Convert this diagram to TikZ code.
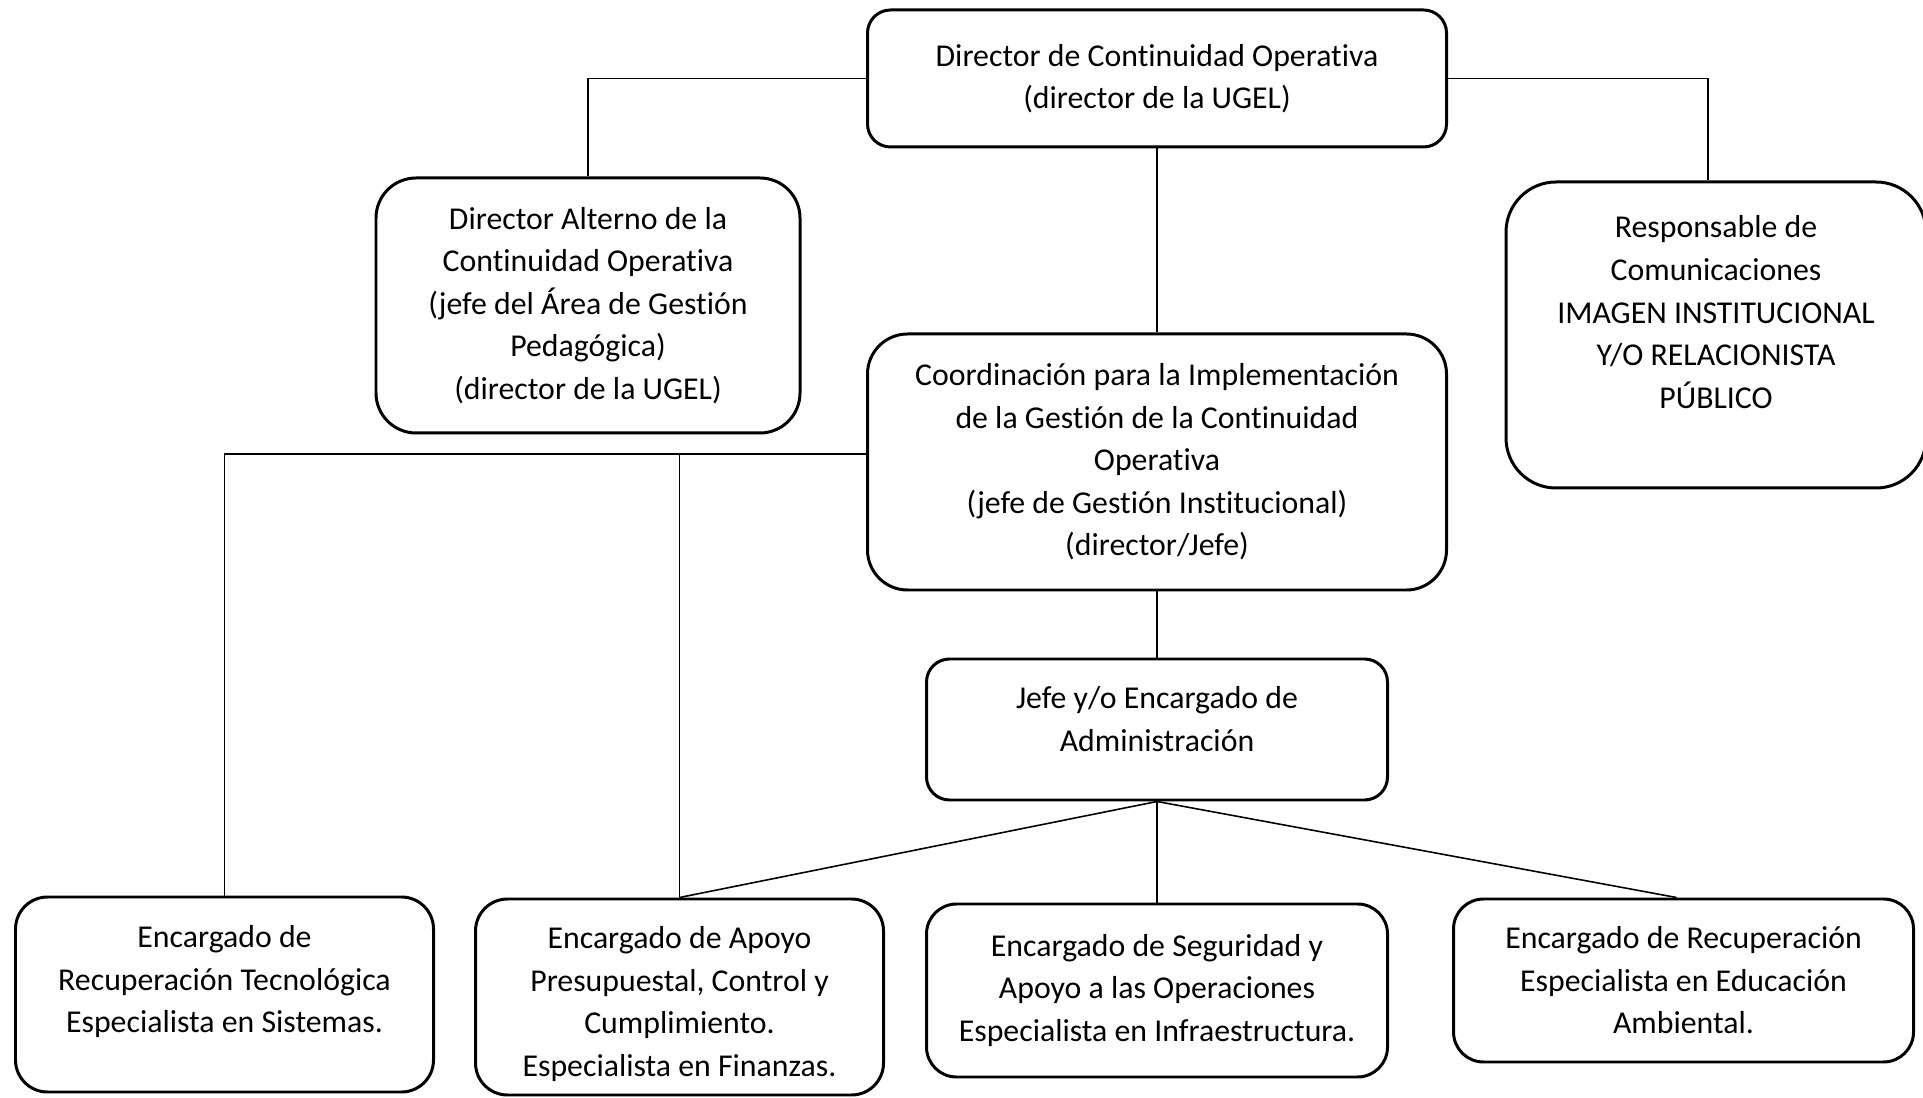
\documentclass[tikz,border=0pt]{standalone}
\usepackage{fontspec}
\setmainfont{Carlito}[Ligatures={NoCommon,NoRequired,NoContextual},Contextuals=NoAlternate]
\usepackage{tikz}
\usetikzlibrary{positioning}

\begin{document}
\begin{tikzpicture}[node distance=2cm,on grid,
		box/.style={draw, line width=0.85pt, rounded corners=0.3cm, align=center,
			font=\fontsize{9.05}{12.1}\selectfont, inner sep=0pt},
		link/.style={line width=0.45pt}]
		\useasboundingbox (0,0) rectangle (19.23,10.97);
		
		% top
		\node[box, rounded corners=0.23cm, minimum width=5.79cm, minimum height=1.37cm] (dir) at (11.57,10.185)
		{Director de Continuidad Operativa\\(director de la UGEL)};
		\node[box, rounded corners=0.4cm, minimum width=4.24cm, minimum height=2.55cm,
		below left = 2.27cm and 5.69cm of dir] (alt)
		{Director Alterno de la\\Continuidad Operativa\\(jefe del Área de Gestión\\Pedagógica)\\(director de la UGEL)};
		\node[box, rounded corners=0.5cm, minimum width=4.2cm, minimum height=3.06cm,
		below right = 2.565cm and 5.59cm of dir] (resp)
		{Responsable de\\Comunicaciones\\IMAGEN INSTITUCIONAL\\Y/O RELACIONISTA\\PÚBLICO\\[1pt]~};
		
		% middle
		\node[box, rounded corners=0.4cm, minimum width=5.79cm, minimum height=2.56cm,
		below = 3.835cm of dir] (coord)
		{Coordinación para la Implementación\\de la Gestión de la Continuidad\\Operativa\\(jefe de Gestión Institucional)\\(director/Jefe)};
		\node[box, rounded corners=0.23cm, minimum width=4.61cm, minimum height=1.41cm,
		below = 2.675cm of coord] (adm)
		{Jefe y/o Encargado de\\Administración\\[-6pt]~};
		
		% bottom
		\node[box, rounded corners=0.3cm, minimum width=4.61cm, minimum height=1.73cm,
		below = 2.61cm of adm] (seg)
		{Encargado de Seguridad y\\Apoyo a las Operaciones\\Especialista en Infraestructura.};
		\node[box, rounded corners=0.32cm, minimum width=4.08cm, minimum height=1.96cm,
		below left = 0.065cm and 4.775cm of seg] (fin)
		{\mbox{}\\[-1.7pt]Encargado de Apoyo\\Presupuestal, Control y\\Cumplimiento.\\Especialista en Finanzas.};
		\node[box, rounded corners=0.32cm, minimum width=4.18cm, minimum height=1.95cm,
		above left = 0.025cm and 4.55cm of fin] (tec)
		{Encargado de\\Recuperación Tecnológica\\Especialista en Sistemas.\\[-3.3pt]~};
		\node[box, rounded corners=0.3cm, minimum width=4.6cm, minimum height=1.63cm,
		above right = 0.1cm and 5.265cm of seg] (amb)
		{Encargado de Recuperación\\Especialista en Educación\\Ambiental.};
		
		% lines
		\draw[link] (dir.west) -| (alt.north);
		\draw[link] (dir.east) -| ([xshift=-0.08cm]resp.north);
		\draw[link] ([yshift=0.08cm]coord.west) -| (tec.north);
		\draw[link] ([yshift=0.08cm]coord.west -| fin.north) -- (fin.north);
		\path[link] (dir.south) edge (coord.north)
		(coord.south) edge (adm.north)
		(adm.south) edge (fin.north)
		(adm.south) edge (seg.north)
		(adm.south) edge ([xshift=-0.07cm]amb.north);
\end{tikzpicture}
\end{document}
